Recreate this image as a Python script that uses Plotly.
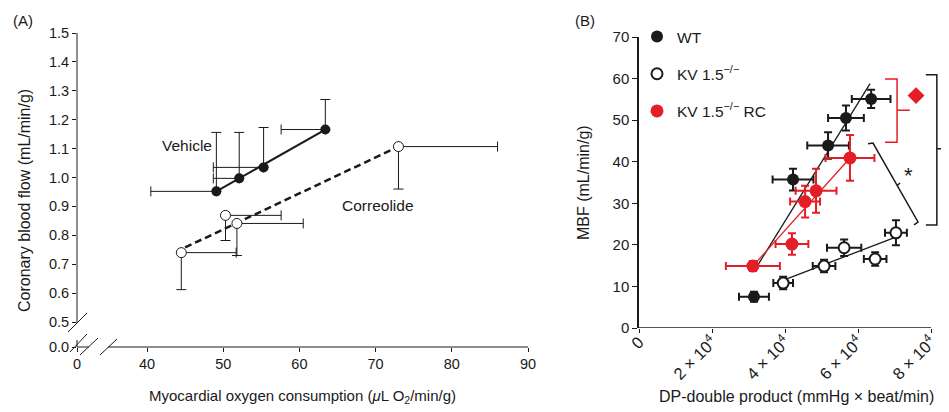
import plotly.graph_objects as go

# the page body keeps its default 8px margin, so the figure starts 8px in
OX, OY = 8, 8
W, H = 949 - OX, 412 - OY
FONT = "Liberation Sans, Arial, sans-serif"
INK = "#1a1a1a"
RED = "#e41e26"

# ---- panel A: coronary blood flow vs MVO2 ----
vehicle_x = [49.1, 52.1, 55.3, 63.4]
vehicle_y = [0.952, 0.997, 1.035, 1.166]
vehicle_x_err = [8.6, 3.4, 6.6, 5.8]        # left side only
vehicle_y_err = [0.204, 0.159, 0.138, 0.104]  # upper side only
vehicle_fit_x = [49.1, 63.4]
vehicle_fit_y = [0.952, 1.166]

correolide_x = [44.5, 50.3, 51.8, 73.0]
correolide_y = [0.740, 0.869, 0.841, 1.107]
correolide_x_err = [7.2, 7.3, 8.7, 13.0]        # right side only
correolide_y_err = [0.128, 0.087, 0.111, 0.147]  # lower side only
correolide_fit_x = [45.0, 73.0]
correolide_fit_y = [0.758, 1.107]

a_xticks = [30.81, 40, 50, 60, 70, 80, 90]
a_xlabels = ["0", "40", "50", "60", "70", "80", "90"]
a_yticks = [0.4135, 0.5, 0.6, 0.7, 0.8, 0.9, 1.0, 1.1, 1.2, 1.3, 1.4, 1.5]
a_ylabels = ["0.0", "0.5", "0.6", "0.7", "0.8", "0.9", "1.0", "1.1", "1.2", "1.3", "1.4", "1.5"]

# ---- panel B: MBF vs double product ----
wt_x = [31500, 42200, 51800, 56700, 63600]
wt_y = [7.5, 35.7, 43.9, 50.5, 55.1]
wt_x_err = [4100, 5600, 5700, 4900, 5300]
wt_y_err = [1.2, 2.6, 3.2, 3.0, 2.2]
wt_fit_x = [32600, 63300]
wt_fit_y = [15.2, 58.8]

kv_x = [39500, 50700, 56200, 64700, 70400]
kv_y = [10.8, 14.9, 19.3, 16.6, 22.9]
kv_x_err = [2700, 3100, 4700, 3100, 3000]
kv_y_err = [1.5, 1.5, 2.0, 1.6, 3.0]
kv_fit_x = [40500, 70700]
kv_fit_y = [11.8, 22.0]

rc_x = [31200, 41900, 45500, 48500, 57800]
rc_y = [14.9, 20.2, 30.4, 33.0, 40.9]
rc_x_err = [7400, 4500, 4100, 5600, 6700]
rc_y_err = [1.2, 2.6, 3.8, 5.3, 5.5]
rc_fit_x = [31200, 57800]
rc_fit_y = [14.9, 40.9]

sig_x = [75900]
sig_y = [55.9]

b_xticks = [0, 20000, 40000, 60000, 80000]
b_xlabels = ["0", "2 \u00d7 10<sup>4</sup>", "4 \u00d7 10<sup>4</sup>",
             "6 \u00d7 10<sup>4</sup>", "8 \u00d7 10<sup>4</sup>"]
b_yticks = [0, 10, 20, 30, 40, 50, 60, 70]


def px(x, y):
    # screen pixel -> paper coords
    return (x - OX) / W, 1 - (y - OY) / H


def seg(x0, y0, x1, y1, width=1, color=INK):
    a, b = px(x0, y0)
    c, d = px(x1, y1)
    return dict(type="line", xref="paper", yref="paper", x0=a, y0=b, x1=c, y1=d,
                line=dict(color=color, width=width))


fig = go.Figure()

# panel A
fig.add_trace(go.Scatter(x=vehicle_fit_x, y=vehicle_fit_y, mode="lines",
                         line=dict(color=INK, width=2), xaxis="x", yaxis="y",
                         showlegend=False, hoverinfo="skip"))
fig.add_trace(go.Scatter(x=correolide_fit_x, y=correolide_fit_y, mode="lines",
                         line=dict(color=INK, width=2.5, dash="7px,4px"), xaxis="x", yaxis="y",
                         showlegend=False, hoverinfo="skip"))
fig.add_trace(go.Scatter(
    x=vehicle_x, y=vehicle_y, mode="markers", xaxis="x", yaxis="y", showlegend=False,
    marker=dict(size=10, color=INK),
    error_x=dict(type="data", symmetric=False, array=[0] * 4, arrayminus=vehicle_x_err,
                 color=INK, thickness=1, width=5),
    error_y=dict(type="data", symmetric=False, array=vehicle_y_err, arrayminus=[0] * 4,
                 color=INK, thickness=1, width=5)))
fig.add_trace(go.Scatter(
    x=correolide_x, y=correolide_y, mode="markers", xaxis="x", yaxis="y", showlegend=False,
    marker=dict(size=10, color="white", line=dict(color=INK, width=1)),
    error_x=dict(type="data", symmetric=False, array=correolide_x_err, arrayminus=[0] * 4,
                 color=INK, thickness=1, width=5),
    error_y=dict(type="data", symmetric=False, array=[0] * 4, arrayminus=correolide_y_err,
                 color=INK, thickness=1, width=5)))

# panel B
for fx, fy, col in [(wt_fit_x, wt_fit_y, INK), (kv_fit_x, kv_fit_y, INK), (rc_fit_x, rc_fit_y, RED)]:
    fig.add_trace(go.Scatter(x=fx, y=fy, mode="lines", line=dict(color=col, width=1.3),
                             xaxis="x2", yaxis="y2", showlegend=False, hoverinfo="skip"))

fig.add_trace(go.Scatter(
    x=wt_x, y=wt_y, mode="markers", name="WT", legendgroup="wt", xaxis="x2", yaxis="y2",
    marker=dict(size=12, color=INK),
    error_x=dict(type="data", array=wt_x_err, color=INK, thickness=2, width=4),
    error_y=dict(type="data", array=wt_y_err, color=INK, thickness=2, width=4)))
fig.add_trace(go.Scatter(
    x=kv_x, y=kv_y, mode="markers", name="KV 1.5<sup>\u2212/\u2212</sup>", legendgroup="kv",
    xaxis="x2", yaxis="y2",
    marker=dict(size=11, color="white", line=dict(color=INK, width=2)),
    error_x=dict(type="data", array=kv_x_err, color=INK, thickness=2, width=4),
    error_y=dict(type="data", array=kv_y_err, color=INK, thickness=2, width=4)))
fig.add_trace(go.Scatter(
    x=rc_x, y=rc_y, mode="markers", name="KV 1.5<sup>\u2212/\u2212</sup> RC", legendgroup="rc",
    xaxis="x2", yaxis="y2",
    marker=dict(size=13, color=RED),
    error_x=dict(type="data", array=rc_x_err, color=RED, thickness=2, width=4),
    error_y=dict(type="data", array=rc_y_err, color=RED, thickness=2, width=4)))
fig.add_trace(go.Scatter(x=sig_x, y=sig_y, mode="markers", xaxis="x2", yaxis="y2",
                         marker=dict(symbol="diamond", size=13, color=RED),
                         showlegend=False, hoverinfo="skip"))
fig.add_trace(go.Scatter(x=[84650], y=[45.2], mode="markers", xaxis="x2", yaxis="y2",
                         marker=dict(size=7, color=INK), showlegend=False, hoverinfo="skip"))

shapes = [
    # panel A axis lines with breaks
    seg(77, 33, 77, 323), seg(77, 340, 77, 347),
    seg(77, 347, 89, 347), seg(108, 347, 528, 347),
    seg(68, 332, 87, 313), seg(70, 352, 87, 334),
    seg(80, 355, 98, 338), seg(100, 355, 117, 339),
    # panel B x axis line up to 8e4
    dict(type="line", xref="x2", yref="y2", x0=0, y0=0, x1=80000, y1=0,
         line=dict(color=INK, width=1.5)),
    # red bracket
    dict(type="path", xref="x2", yref="y2",
         path="M 67400 59.9 L 70700 59.9 L 70700 44.7 L 67400 44.7 M 70700 52.4 L 74200 52.4",
         line=dict(color=RED, width=1.5)),
    # large black bracket
    dict(type="path", xref="x2", yref="y2",
         path="M 78600 60.9 L 81600 60.9 L 81600 24.8 L 78600 24.8 M 81600 43.1 L 84900 43.1",
         line=dict(color=INK, width=1.5)),
    # slanted bracket
    dict(type="path", xref="x2", yref="y2",
         path="M 62740 44.3 L 64110 44.5 L 76440 25.5 L 75340 24.8 M 71510 34.9 L 70680 34.2",
         line=dict(color=INK, width=1.5)),
]


def note(text, x, y, size, **kw):
    a, b = px(x, y)
    d = dict(text=text, x=a, y=b, xref="paper", yref="paper", showarrow=False,
             xanchor="center", yanchor="middle", font=dict(family=FONT, size=size, color=INK))
    d.update(kw)
    return d


annotations = [
    note("(A)", 23, 20, 15),
    note("(B)", 585, 20, 15),
    note("Vehicle", 187, 145, 15.5),
    note("Correolide", 378, 205, 15.5),
    note("Myocardial oxygen consumption (<i>\u03bc</i>L O<sub>2</sub>/min/g)", 302, 396, 15),
    note("Coronary blood flow (mL/min/g)", 24, 201, 16, textangle=-90),
    note("DP-double product (mmHg \u00d7 beat/min)", 796, 396, 16),
    note("MBF (mL/min/g)", 584, 183, 16, textangle=-90),
    note("*", 908, 176, 22),
]

tick_font = dict(family=FONT, size=14.5, color=INK)
axis_common = dict(showgrid=False, zeroline=False, automargin=False, ticks="outside",
                   tickcolor=INK)

fig.update_layout(
    width=W, height=H, margin=dict(l=0, r=0, t=0, b=0, autoexpand=False),
    paper_bgcolor="white", plot_bgcolor="white",
    font=dict(family=FONT, color=INK),
    xaxis=dict(domain=[(77 - OX) / W, (528 - OX) / W], range=[30.81, 90], tickvals=a_xticks,
               ticktext=a_xlabels, ticklen=4, showline=False, tickfont=tick_font, anchor="y",
               **axis_common),
    yaxis=dict(domain=[1 - (347 - OY) / H, 1 - (33 - OY) / H], range=[0.4135, 1.5],
               tickvals=a_yticks, ticktext=a_ylabels, ticklen=4, showline=False,
               tickfont=tick_font, anchor="x", **axis_common),
    xaxis2=dict(domain=[(639 - OX) / W, 1.0], range=[0, (949 - 639) * 20000 / 73],
                tickvals=b_xticks, ticktext=b_xlabels, tickangle=-45, ticklen=4, showline=False,
                ticklabelstandoff=-7,
                tickfont=dict(family=FONT, size=16.5, color=INK), anchor="y2", **axis_common),
    yaxis2=dict(domain=[1 - (328 - OY) / H, 1 - (37 - OY) / H], range=[0, 70], tickvals=b_yticks,
                ticklen=5, showline=True, linecolor=INK, linewidth=1.5,
                tickfont=dict(family=FONT, size=15, color=INK), anchor="x2", **axis_common),
    legend=dict(x=(637 - OX) / W, y=1 - (20 - OY) / H, xanchor="left", yanchor="top",
                font=dict(family=FONT, size=15.5, color=INK), bgcolor="rgba(0,0,0,0)",
                traceorder="grouped", tracegroupgap=14),
    shapes=shapes,
    annotations=annotations,
)

fig.write_html("out.html")
